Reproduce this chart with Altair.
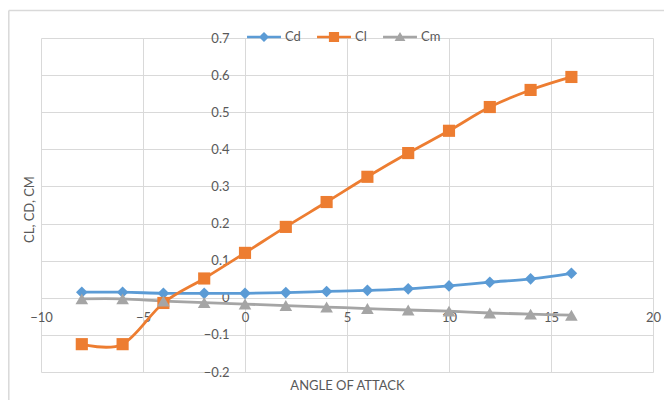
import altair as alt
import pandas as pd

# ---- data ----
angle = [-8, -6, -4, -2, 0, 2, 4, 6, 8, 10, 12, 14, 16]
cd = [0.015, 0.015, 0.012, 0.012, 0.012, 0.014, 0.017, 0.020, 0.024, 0.032, 0.042, 0.051, 0.066]
cl = [-0.125, -0.125, -0.014, 0.052, 0.121, 0.191, 0.258, 0.326, 0.390, 0.450, 0.514, 0.560, 0.595]
cm = [-0.003, -0.003, -0.009, -0.013, -0.017, -0.021, -0.025, -0.029, -0.033, -0.036, -0.041, -0.044, -0.047]
series_names = ["Cd", "Cl", "Cm"]
colors = ["#5b9bd5", "#ed7d31", "#a5a5a5"]
x_ticks = [-10, -5, 0, 5, 10, 15, 20]
y_ticks = [-0.2, -0.1, 0.0, 0.1, 0.2, 0.3, 0.4, 0.5, 0.6, 0.7]
x_title = "ANGLE OF ATTACK"
y_title = "CL, CD, CM"

rows = []
for name, vals in zip(series_names, [cd, cl, cm]):
    for a, v in zip(angle, vals):
        rows.append({"angle": a, "value": v, "series": name, "key": name})
df = pd.DataFrame(rows)

FONT = "Lato"
TXT = "#595959"
GRID = "#d9d9d9"

W, H = 612, 334
x_enc = alt.X(
    "angle:Q",
    scale=alt.Scale(domain=[-10, 20], nice=False, zero=False),
    axis=alt.Axis(
        values=x_ticks, format="d", grid=True, gridColor=GRID, ticks=False,
        domain=True, domainColor=GRID, offset=-74, labelPadding=13, labelFlush=False,
        labelFont=FONT, labelFontSize=13, labelColor=TXT,
        title=x_title, titleFont=FONT, titleFontSize=13, titleColor=TXT,
        titleFontWeight="normal", titleY=87, titleBaseline="middle",
        titleX=W / 2, titleAnchor="middle",
    ),
)
y_enc = alt.Y(
    "value:Q",
    scale=alt.Scale(domain=[-0.2, 0.7], nice=False, zero=False),
    axis=alt.Axis(
        values=y_ticks, format=".1~f", grid=True, gridColor=GRID, ticks=False,
        domain=False, offset=-204, labelPadding=16, labelFlush=False,
        labelFont=FONT, labelFontSize=13, labelColor=TXT,
        title=y_title, titleFont=FONT, titleFontSize=13, titleColor=TXT,
        titleFontWeight="normal", titleX=-216, titleY=171, titleAngle=-90,
        titleBaseline="middle", titleAlign="center",
    ),
)

base = alt.Chart(df)

lines = base.mark_line(interpolate="cardinal", strokeWidth=2.8).encode(
    x=x_enc, y=y_enc,
    color=alt.Color("series:N", scale=alt.Scale(domain=series_names, range=colors), legend=None),
    detail="series:N",
)

points = base.mark_point(filled=True, opacity=1).encode(
    x=x_enc, y=y_enc,
    color=alt.Color("series:N", scale=alt.Scale(domain=series_names, range=colors), legend=None),
    shape=alt.Shape("series:N", scale=alt.Scale(domain=series_names,
                                                range=["diamond", "square", "triangle-up"]), legend=None),
    size=alt.Size("series:N", scale=alt.Scale(domain=series_names, range=[135, 160, 140]), legend=None),
)

leg_shapes = [
    "M-1,-0.08L1,-0.08L1,0.08L-1,0.08Z M0,-0.3L0.3,0L0,0.3L-0.3,0Z",
    "M-1,-0.08L1,-0.08L1,0.08L-1,0.08Z M-0.3,-0.3L0.3,-0.3L0.3,0.3L-0.3,0.3Z",
    "M-1,-0.08L1,-0.08L1,0.08L-1,0.08Z M0,-0.3L0.32,0.24L-0.32,0.24Z",
]
leg = alt.Legend(
    title=None, orient="none", direction="horizontal", legendX=206, legendY=-18,
    symbolSize=1150, symbolOpacity=1, symbolStrokeWidth=0, padding=0,
    labelFont=FONT, labelFontSize=13, labelColor=TXT, labelOffset=4,
    columnPadding=16, columns=3,
)
legend_layer = base.mark_point(filled=True, opacity=0).encode(
    x=x_enc, y=y_enc,
    color=alt.Color("key:N", scale=alt.Scale(domain=series_names, range=colors), legend=leg),
    shape=alt.Shape("key:N", scale=alt.Scale(domain=series_names, range=leg_shapes), legend=leg),
)

frame_df = pd.DataFrame({"k": [0]})
frame_left = alt.Chart(frame_df).mark_rule(color=GRID, strokeWidth=1.5).encode(
    x=alt.value(-32.2), y=alt.value(-27.5), y2=alt.value(H + 40)
)
frame_top = alt.Chart(frame_df).mark_rule(color=GRID, strokeWidth=1.5).encode(
    x=alt.value(-32.2), x2=alt.value(W + 20), y=alt.value(-27.5)
)

chart = (
    alt.layer(frame_left, frame_top, lines, points, legend_layer)
    .resolve_scale(color="independent", shape="independent", size="independent")
    .properties(
        width=W, height=H,
        autosize=alt.AutoSizeParams(type="none"),
        padding={"left": 33, "top": 30, "right": 11, "bottom": 28},
        background="white",
    )
    .configure_view(stroke=None)
)

chart.save("out.html", embed_options={"renderer": "svg", "actions": False})
